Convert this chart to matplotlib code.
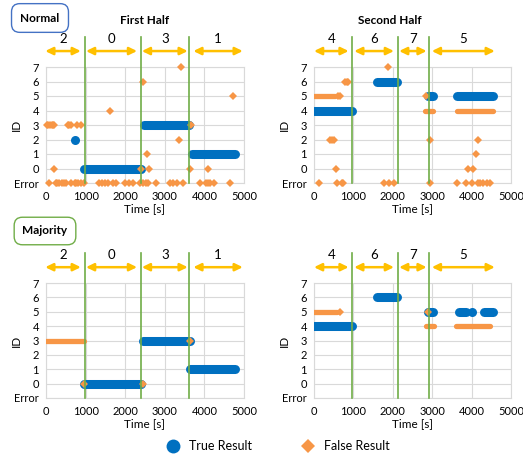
import matplotlib.pyplot as plt
from matplotlib.lines import Line2D

plt.rcParams['font.family'] = ['Lato', 'DejaVu Sans']

BLUE = '#0070C0'
ORANGE = '#F79646'
GOLD = '#FFC000'
GREEN = '#70AD47'

# y axis: -1 stands for "Error"
id_ticks = [-1, 0, 1, 2, 3, 4, 5, 6, 7]
id_labels = ['Error', '0', '1', '2', '3', '4', '5', '6', '7']
time_ticks = [0, 1000, 2000, 3000, 4000, 5000]

# segments of the ground truth (start, end, label) for each half
first_bounds = [990, 2390, 3615]
first_arrows = [(-20, 880, '2'), (1010, 2300, '0'), (2420, 3580, '3'), (3720, 4970, '1')]
second_bounds = [972, 2130, 2922]
second_arrows = [(0, 880, '4'), (1020, 2030, '6'), (2160, 2860, '7'), (2990, 4590, '5')]

# ---- Normal, first half
n1_true_runs = [(950, 2390, 0), (2470, 3600, 3), (3680, 4780, 1)]
n1_true_pts = {2: [736]}
n1_false_runs = []
n1_false_pts = {
    3: [20, 60, 100, 140, 180, 210, 550, 590, 635, 780, 890, 3650],
    0: [210, 2410, 2600, 3640, 4080],
    1: [2555],
    2: [3350],
    4: [1607],
    5: [4710],
    6: [2440],
    7: [3420],
    -1: [68, 240, 290, 340, 400, 450, 500, 635, 720, 770, 820, 880, 950,
         1350, 1420, 1480, 1560, 1700, 1780, 2000, 2100, 2200, 2380, 2450,
         2520, 2580, 2790, 3130, 3200, 3300, 3470, 3890, 4040, 4100, 4150,
         4230, 4650],
}

# ---- Normal, second half
n2_true_runs = [(0, 955, 4), (1590, 2100, 6), (2900, 3030, 5), (3620, 4550, 5)]
n2_true_pts = {}
n2_false_runs = [(10, 540, 5), (2820, 3030, 4), (3620, 4550, 4)]
n2_false_pts = {
    5: [600, 650, 2840],
    6: [790, 830, 870],
    7: [1870],
    2: [400, 450, 520, 2940, 4150],
    1: [4110],
    0: [560, 3920, 4030],
    -1: [135, 575, 700, 745, 1780, 1910, 2040, 2940, 3620, 3860, 4000,
         4170, 4220, 4280, 4380, 4470],
}

# ---- Majority, first half
m1_true_runs = [(950, 2410, 0), (2450, 3640, 3), (3640, 4780, 1)]
m1_true_pts = {}
m1_false_runs = [(0, 970, 3)]
m1_false_pts = {0: [970, 2440], 3: [3640]}

# ---- Majority, second half
m2_true_runs = [(0, 955, 4), (1590, 2100, 6), (2900, 3030, 5), (3690, 3870, 5), (4310, 4550, 5)]
m2_true_pts = {5: [4000]}
m2_false_runs = [(0, 575, 5), (2830, 3050, 4), (3600, 4470, 4)]
m2_false_pts = {5: [660, 2900]}


def panel(ax, true_runs, true_pts, false_runs, false_pts, bounds, arrows):
    ax.set_xlim(0, 5000)
    ax.set_ylim(-1, 7)
    ax.set_xticks(time_ticks)
    ax.set_yticks(id_ticks)
    ax.set_yticklabels(id_labels)
    ax.grid(True, color='#D9D9D9', lw=0.8)
    ax.set_axisbelow(True)
    for s in ax.spines.values():
        s.set_color('#D9D9D9')
    ax.tick_params(length=0, labelsize=8)
    ax.tick_params(axis='x', pad=5.5)
    ax.tick_params(axis='y', pad=5)
    ax.set_xlabel('Time [s]', fontsize=8.5)
    ax.set_ylabel('ID', fontsize=8.5)
    ax.xaxis.set_label_coords(0.5, -0.175)
    ax.yaxis.set_label_coords(-0.12, 0.5)

    for t0, t1, i in true_runs:
        ax.plot([t0, t1], [i, i], color=BLUE, lw=6.5, solid_capstyle='round', zorder=3)
    for i, ts in true_pts.items():
        ax.plot(ts, [i] * len(ts), 'o', color=BLUE, ms=6.5, mew=0, zorder=3)
    for t0, t1, i in false_runs:
        ax.plot([t0, t1], [i, i], color=ORANGE, lw=3.8, solid_capstyle='round', zorder=4)
    for i, ts in false_pts.items():
        ax.plot(ts, [i] * len(ts), 'D', color=ORANGE, ms=4, mew=0, zorder=4, clip_on=False)

    for b in bounds:
        ax.plot([b, b], [-1, 9.1], color=GREEN, lw=1.2, clip_on=False, zorder=5)
    for a0, a1, lab in arrows:
        ax.annotate('', xy=(a1, 8.1), xytext=(a0, 8.1), annotation_clip=False,
                    arrowprops=dict(arrowstyle='<|-|>,head_length=0.45,head_width=0.22',
                                    color=GOLD, lw=1.8, shrinkA=0, shrinkB=0))
        ax.text((a0 + a1) / 2, 8.55, lab, ha='center', va='bottom', fontsize=9.5)


fig = plt.figure(figsize=(5.23, 4.57), dpi=100)
W, H = 523, 457


def add_ax(x0, y_top, x1, y_bot):
    return fig.add_axes([x0 / W, 1 - y_bot / H, (x1 - x0) / W, (y_bot - y_top) / H])


ax1 = add_ax(46, 67, 244, 183)
ax2 = add_ax(314, 67, 511, 183)
ax3 = add_ax(46, 283, 244, 398)
ax4 = add_ax(314, 283, 511, 398)

panel(ax1, n1_true_runs, n1_true_pts, n1_false_runs, n1_false_pts, first_bounds, first_arrows)
panel(ax2, n2_true_runs, n2_true_pts, n2_false_runs, n2_false_pts, second_bounds, second_arrows)
panel(ax3, m1_true_runs, m1_true_pts, m1_false_runs, m1_false_pts, first_bounds, first_arrows)
panel(ax4, m2_true_runs, m2_true_pts, m2_false_runs, m2_false_pts, second_bounds, second_arrows)

fig.text(145 / W, 1 - 21 / H, 'First Half', ha='center', va='center', fontsize=8.5, fontweight='bold')
fig.text(390 / W, 1 - 21 / H, 'Second Half', ha='center', va='center', fontsize=8.5, fontweight='bold')
fig.text(40 / W, 1 - 18 / H, 'Normal', ha='center', va='center', fontsize=8.5, fontweight='bold',
         bbox=dict(boxstyle='round,pad=0.75,rounding_size=0.7', fc='white', ec='#4472C4', lw=1))
fig.text(45 / W, 1 - 231 / H, 'Majority', ha='center', va='center', fontsize=8.5, fontweight='bold',
         bbox=dict(boxstyle='round,pad=0.7,rounding_size=0.7', fc='white', ec=GREEN, lw=1))

handles = [Line2D([], [], marker='o', ls='', color=BLUE, ms=10, mew=0),
           Line2D([], [], marker='D', ls='', color=ORANGE, ms=7.5, mew=0)]
fig.legend(handles, ['True Result', 'False Result'], loc='center', bbox_to_anchor=(0.526, 1 - 446 / H),
           ncol=2, frameon=False, fontsize=9, columnspacing=3.5, handletextpad=0.3)

fig.savefig('out.png', dpi=100)
